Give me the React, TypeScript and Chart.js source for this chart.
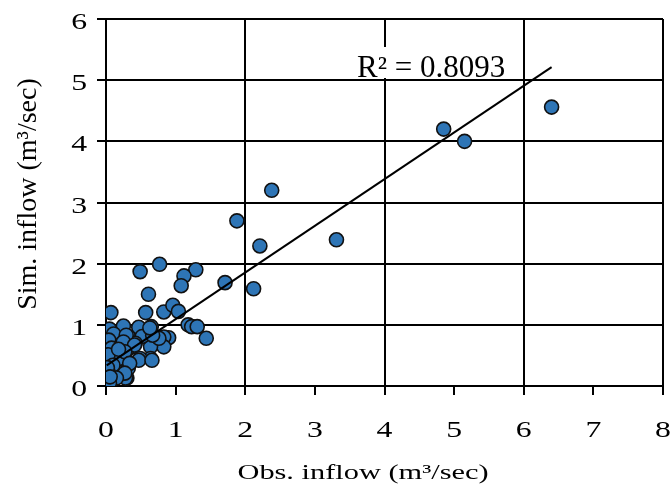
import React, { useEffect, useRef } from "react";
import { Chart, registerables } from "chart.js";

Chart.register(...registerables);

// Observed vs simulated inflow (m3/sec)
const obsInflow = [
  6.40, 4.85, 5.15, 2.38, 1.88, 3.31, 2.21, 2.12, 1.71, 0.77,
  0.49, 1.29, 1.12, 1.08, 0.61, 0.83, 0.96, 1.04, 0.07, 0.57,
  1.18, 1.23, 1.31, 1.44, 0.90, 0.83, 0.83, 0.65, 0.47, 0.25,
  0.05, 0.11, 0.04, 0.64, 0.64, 0.49, 0.37, 0.21, 0.23, 0.30,
  0.04, 0.32, 0.52, 0.76, 0.23, 0.42, 0.30, 0.04, 0.20, 0.47,
  0.66, 0.04, 0.32, 0.13, 0.28, 0.01, 0.29, 0.25, 0.41, 0.08,
  0.27, 0.03, 0.34, 0.10, 0.03, 0.27, 0.15, 0.02, 0.05, 0.67,
  0.63, 0.02, 0.06, 0.18,
];
const simInflow = [
  4.56, 4.20, 4.00, 3.20, 2.70, 2.39, 2.29, 1.59, 1.69, 1.99,
  1.87, 1.90, 1.80, 1.64, 1.50, 1.21, 1.32, 1.22, 1.20, 1.20,
  1.00, 0.97, 0.97, 0.78, 0.79, 0.80, 0.64, 0.97, 0.96, 0.98,
  0.93, 0.85, 0.75, 0.64, 0.45, 0.45, 0.64, 0.51, 0.32, 0.13,
  0.01, 0.81, 0.81, 0.78, 0.70, 0.70, 0.59, 0.56, 0.45, 0.42,
  0.42, 0.40, 0.29, 0.23, 0.13, 0.02, 0.83, 0.72, 0.67, 0.62,
  0.56, 0.51, 0.37, 0.34, 0.23, 0.21, 0.13, 0.08, 0.05, 0.83,
  0.95, 0.30, 0.15, 0.60,
];

const trendSlope = 0.763;
const trendIntercept = 0.33;
const r2Label = "R\u00B2 = 0.8093";

const xTickValues = [0, 1, 2, 3, 4, 5, 6, 7, 8];
const xGridValues = [2, 4, 6, 8];
const yTickValues = [0, 1, 2, 3, 4, 5, 6];
const xTitle = "Obs. inflow (m\u00B3/sec)";
const yTitle = "Sim. inflow (m\u00B3/sec)";

const FONT = '"Liberation Serif", "Times New Roman", serif';
const GRID_COLOR = "#000";
const TICK_LEN = 9;

const gridPlugin = {
  id: "manualGrid",
  beforeDatasetsDraw(chart: any) {
    const ctx = chart.ctx;
    const xs = chart.scales.x;
    const ys = chart.scales.y;
    const a = chart.chartArea;
    ctx.save();
    ctx.strokeStyle = GRID_COLOR;
    ctx.lineWidth = 2;
    yTickValues.forEach((v) => {
      const py = Math.round(ys.getPixelForValue(v));
      ctx.beginPath();
      ctx.moveTo(a.left - TICK_LEN, py);
      ctx.lineTo(a.right, py);
      ctx.stroke();
    });
    xGridValues.forEach((v) => {
      const px = Math.round(xs.getPixelForValue(v));
      ctx.beginPath();
      ctx.moveTo(px, a.top);
      ctx.lineTo(px, a.bottom);
      ctx.stroke();
    });
    xTickValues.forEach((v) => {
      const px = Math.round(xs.getPixelForValue(v));
      ctx.beginPath();
      ctx.moveTo(px, a.bottom);
      ctx.lineTo(px, a.bottom + TICK_LEN);
      ctx.stroke();
    });
    const x0 = Math.round(xs.getPixelForValue(0));
    const y0 = Math.round(ys.getPixelForValue(0));
    ctx.beginPath();
    ctx.moveTo(x0, a.top);
    ctx.lineTo(x0, y0);
    ctx.lineTo(a.right, y0);
    ctx.stroke();
    ctx.restore();
  },
};

const textPlugin = {
  id: "customText",
  afterDraw(chart: any) {
    const ctx = chart.ctx;
    const xs = chart.scales.x;
    const ys = chart.scales.y;
    ctx.save();
    ctx.fillStyle = "#000";
    ctx.textBaseline = "alphabetic";

    ctx.font = `23px ${FONT}`;
    ctx.textAlign = "center";
    xTickValues.forEach((v) => {
      const px = xs.getPixelForValue(v);
      ctx.save();
      ctx.translate(px, 437);
      ctx.scale(1.38, 1);
      ctx.fillText(String(v), 0, 0);
      ctx.restore();
    });

    ctx.textAlign = "right";
    yTickValues.forEach((v) => {
      const py = ys.getPixelForValue(v);
      ctx.save();
      ctx.translate(87, py + 10);
      ctx.scale(1.38, 1);
      ctx.fillText(String(v), 0, 0);
      ctx.restore();
    });

    ctx.font = `22px ${FONT}`;
    ctx.textAlign = "center";
    ctx.save();
    ctx.translate(363, 479);
    ctx.scale(1.38, 1);
    ctx.fillText(xTitle, 0, 0);
    ctx.restore();

    ctx.font = `28px ${FONT}`;
    ctx.save();
    ctx.translate(36, 194);
    ctx.rotate(-Math.PI / 2);
    ctx.fillText(yTitle, 0, 0);
    ctx.restore();

    ctx.font = `31px ${FONT}`;
    ctx.textAlign = "left";
    const w = ctx.measureText(r2Label).width;
    ctx.fillStyle = "#fff";
    ctx.fillRect(355, 47, w + 4, 31);
    ctx.fillStyle = "#000";
    ctx.fillText(r2Label, 357, 77);

    ctx.restore();
  },
};

export default function App() {
  const canvasRef = useRef<HTMLCanvasElement | null>(null);

  useEffect(() => {
    document.body.style.margin = "0";
    const canvas = canvasRef.current;
    if (!canvas) return;

    const points = obsInflow.map((x, i) => ({ x, y: simInflow[i] }));
    const xMin = Math.min(...obsInflow);
    const xMax = Math.max(...obsInflow);
    const trend = [
      { x: xMin, y: trendIntercept + trendSlope * xMin },
      { x: xMax, y: trendIntercept + trendSlope * xMax },
    ];

    const chart = new Chart(canvas, {
      type: "scatter",
      data: {
        datasets: [
          {
            type: "scatter",
            data: points,
            pointRadius: 7,
            pointBorderWidth: 1.6,
            pointBackgroundColor: "#2E75B6",
            pointBorderColor: "#111",
            order: 1,
          } as any,
          {
            type: "line",
            data: trend,
            borderColor: "#000",
            borderWidth: 2,
            pointRadius: 0,
            fill: false,
            order: 0,
          } as any,
        ],
      },
      options: {
        animation: false,
        responsive: false,
        maintainAspectRatio: false,
        layout: { padding: { top: 19, right: 9, left: 0, bottom: 0 } },
        plugins: {
          legend: { display: false },
          tooltip: { enabled: false },
        },
        scales: {
          x: {
            type: "linear",
            min: 0,
            max: 8,
            ticks: { stepSize: 1, display: false },
            grid: { display: false },
            border: { display: false },
            afterFit: (s: any) => {
              s.height = 100;
            },
          },
          y: {
            type: "linear",
            min: 0,
            max: 6,
            ticks: { stepSize: 1, display: false },
            grid: { display: false },
            border: { display: false },
            afterFit: (s: any) => {
              s.width = 106;
            },
          },
        },
      } as any,
      plugins: [gridPlugin, textPlugin],
    });

    return () => chart.destroy();
  }, []);

  return (
    <div style={{ width: 672, height: 486, background: "#fff" }}>
      <canvas ref={canvasRef} width={672} height={486} />
    </div>
  );
}
